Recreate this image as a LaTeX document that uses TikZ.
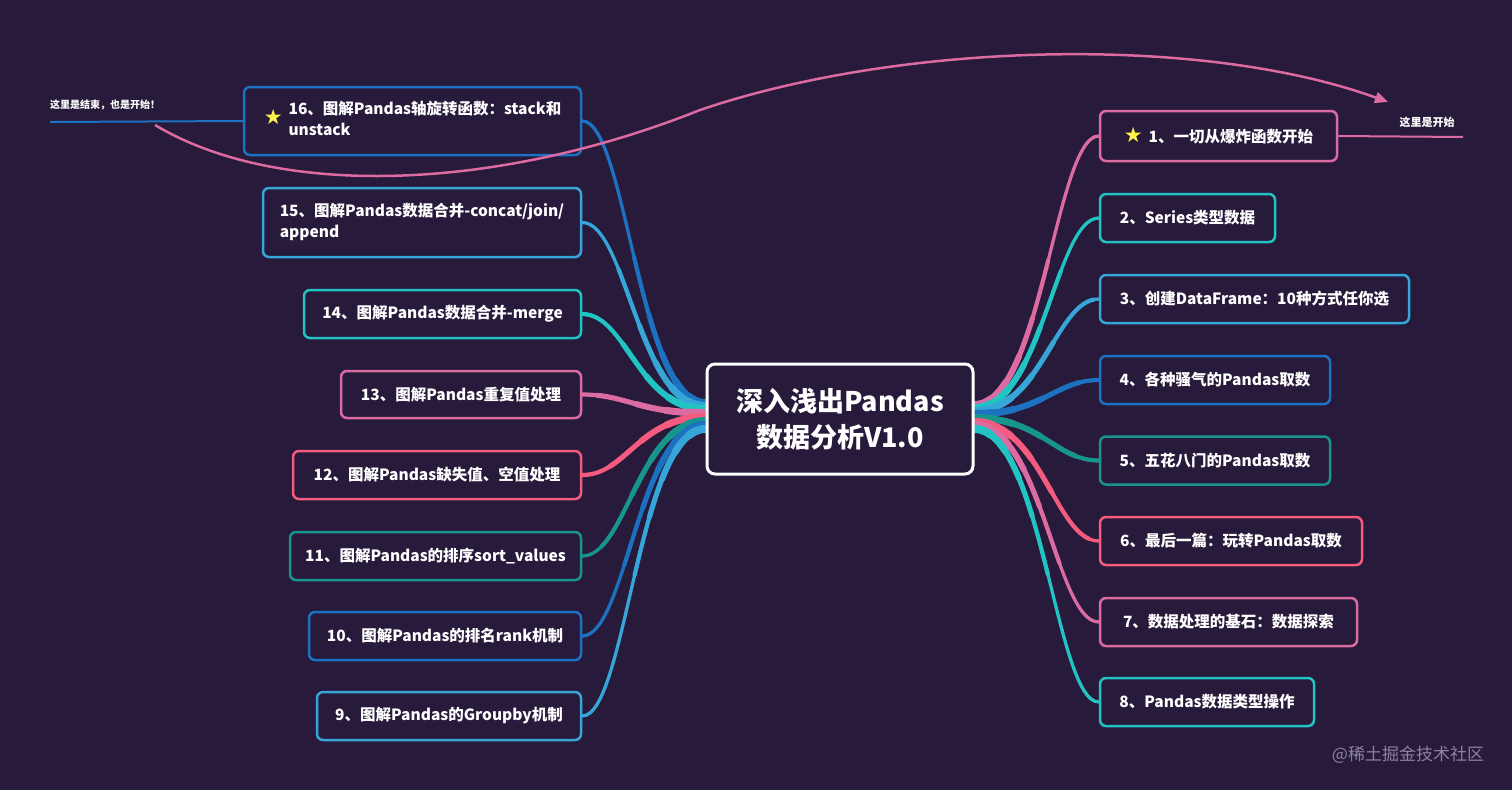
\documentclass[tikz,border=0pt]{standalone}
\usepackage{fontspec}
\setmainfont{Noto Sans CJK SC}
\newfontfamily\symf{DejaVu Sans}
\usetikzlibrary{backgrounds,arrows.meta,calc}
\definecolor{bg}{HTML}{271A3B}
\definecolor{cP}{HTML}{DB6BA1}
\definecolor{cR}{HTML}{F45B7E}
\definecolor{cC}{HTML}{22C3C3}
\definecolor{cL}{HTML}{36A5D8}
\definecolor{cB}{HTML}{1C72C0}
\definecolor{cT}{HTML}{17958C}
\definecolor{starY}{HTML}{FFF24A}
\definecolor{wmgray}{HTML}{8C8499}
\newcommand\starmark{{\symf\color{starY}\fontsize{21}{21}\selectfont ★}}
\newcommand\branch[2]{%
  \draw[conn,#1,line width=3.3pt] #2;
  \draw[conn,#1,line width=4.2pt,dash pattern=on 170pt off 3000pt] #2;
  \draw[conn,#1,line width=5.1pt,dash pattern=on 110pt off 3000pt] #2;
  \draw[conn,#1,line width=6pt,dash pattern=on 70pt off 3000pt] #2;
  \draw[conn,#1,line width=7pt,dash pattern=on 40pt off 3000pt] #2;
  \draw[conn,#1,line width=8pt,dash pattern=on 18pt off 3000pt] #2;
}
\begin{document}
\begin{tikzpicture}[x=1pt,y=-1pt,
  box/.style={draw, line width=2.5pt, rounded corners=6pt, fill=bg, minimum height=48pt,
    text=white, font=\fontsize{15.5}{21}\selectfont\bfseries, inner sep=0pt},
  conn/.style={line cap=round},
  lbl/.style={text=white, inner sep=0pt}]
\useasboundingbox (0,0) rectangle (1512,790);
% center
\node[draw=white, line width=3pt, rounded corners=8pt, fill=bg, minimum width=266pt,
  minimum height=110pt, align=center, text=white,
  font=\fontsize{27}{36}\selectfont\bfseries] (c) at (840,419) {深入浅出Pandas\\数据分析V1.0};
% right nodes
\node[box, draw=cP, minimum width=237pt, minimum height=50pt] (n1) at (1218.5,136) {\starmark\hspace{6pt}1、一切从爆炸函数开始};
\node[box, draw=cC, minimum width=175pt] (n2) at (1187.5,218) {2、Series类型数据};
\node[box, draw=cL, minimum width=309pt] (n3) at (1254.5,299) {3、创建DataFrame：10种方式任你选};
\node[box, draw=cB, minimum width=230pt] (n4) at (1215,380) {4、各种骚气的Pandas取数};
\node[box, draw=cT, minimum width=230pt] (n5) at (1215,460.5) {5、五花八门的Pandas取数};
\node[box, draw=cR, minimum width=262pt] (n6) at (1231,541) {6、最后一篇：玩转Pandas取数};
\node[box, draw=cP, minimum width=257pt] (n7) at (1228.5,622) {7、数据处理的基石：数据探索};
\node[box, draw=cC, minimum width=214pt] (n8) at (1207,702) {8、Pandas数据类型操作};
% left nodes
\node[box, draw=cB, minimum width=337pt, minimum height=68pt] (n16) at (412.5,121)
  {\starmark\hspace{6pt}\begin{tabular}{@{}l@{}}16、图解Pandas轴旋转函数：stack和\\unstack\end{tabular}};
\node[box, draw=cL, minimum width=318pt, minimum height=69pt] (n15) at (422,222.5)
  {\begin{tabular}{@{}l@{}}15、图解Pandas数据合并-concat/join/\\append\end{tabular}};
\node[box, draw=cC, minimum width=277pt] (n14) at (442.5,314) {14、图解Pandas数据合并-merge};
\node[box, draw=cP, minimum width=240pt, minimum height=47pt] (n13) at (461,394.5) {13、图解Pandas重复值处理};
\node[box, draw=cR, minimum width=288pt] (n12) at (437,475) {12、图解Pandas缺失值、空值处理};
\node[box, draw=cT, minimum width=291pt] (n11) at (435.5,556) {11、图解Pandas的排序sort\_values};
\node[box, draw=cB, minimum width=272pt] (n10) at (445,636) {10、图解Pandas的排名rank机制};
\node[box, draw=cL, minimum width=264pt] (n9) at (449,716) {9、图解Pandas的Groupby机制};
% connectors behind
\begin{scope}[on background layer]
\fill[bg] (0,0) rectangle (1512,790);
\branch{cP}{([yshift=14pt]c.east) .. controls +(67,0) and +(-43,0) .. (n1.west)}
\branch{cC}{([yshift=11pt]c.east) .. controls +(67,0) and +(-43,0) .. (n2.west)}
\branch{cL}{([yshift=8pt]c.east) .. controls +(67,0) and +(-43,0) .. (n3.west)}
\branch{cB}{([yshift=5pt]c.east) .. controls +(67,0) and +(-43,0) .. (n4.west)}
\branch{cT}{([yshift=1pt]c.east) .. controls +(67,0) and +(-43,0) .. (n5.west)}
\branch{cR}{([yshift=-3pt]c.east) .. controls +(67,0) and +(-43,0) .. (n6.west)}
\branch{cP}{([yshift=-6pt]c.east) .. controls +(67,0) and +(-43,0) .. (n7.west)}
\branch{cC}{([yshift=-10pt]c.east) .. controls +(67,0) and +(-43,0) .. (n8.west)}
\branch{cB}{([yshift=16pt]c.west) .. controls +(-67,0) and +(44,0) .. (n16.east)}
\branch{cL}{([yshift=13pt]c.west) .. controls +(-67,0) and +(44,0) .. (n15.east)}
\branch{cC}{([yshift=10pt]c.west) .. controls +(-67,0) and +(44,0) .. (n14.east)}
\branch{cP}{([yshift=6pt]c.west) .. controls +(-67,0) and +(44,0) .. (n13.east)}
\branch{cR}{([yshift=2pt]c.west) .. controls +(-67,0) and +(44,0) .. (n12.east)}
\branch{cT}{([yshift=-2pt]c.west) .. controls +(-67,0) and +(44,0) .. (n11.east)}
\branch{cB}{([yshift=-6pt]c.west) .. controls +(-67,0) and +(44,0) .. (n10.east)}
\branch{cL}{([yshift=-10pt]c.west) .. controls +(-67,0) and +(44,0) .. (n9.east)}
\end{scope}
% end / start lines and labels
\coordinate (endL) at (50,122);
\coordinate (endR) at (1463,137);
\draw[cB, line width=2pt] (n16.west) -- (endL);
\draw[cP, line width=2pt] (n1.east) -- (endR);
\node[lbl, font=\fontsize{10}{11}\selectfont\bfseries] (lblL) at (105,105) {这里是结束，也是开始！};
\node[lbl, font=\fontsize{11}{12}\selectfont\bfseries] (lblR) at (1427,122) {这里是开始};
\coordinate (arrS) at (155,125);
\coordinate (arrE) at (1388,102);
\draw[cP, line width=2.5pt, -{Triangle[length=13pt,width=11pt]}]
  (arrS) .. controls (280,200) and (500,190) .. (700,110) .. controls (900,42) and (1200,34) .. (arrE);
\node[text=wmgray, inner sep=0pt, font=\fontsize{17}{17}\selectfont] (wm) at (1408,755) {@稀土掘金技术社区};
\end{tikzpicture}
\end{document}
